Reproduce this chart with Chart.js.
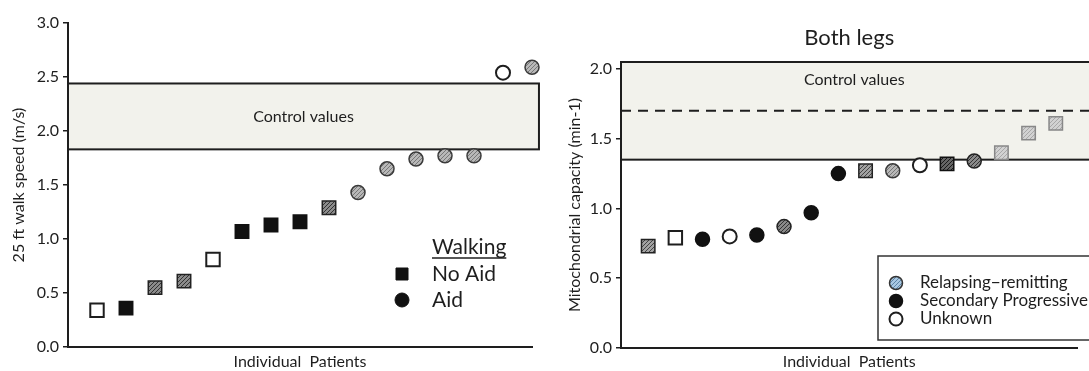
<!DOCTYPE html>
<html>
<head>
<meta charset="utf-8">
<script src="https://cdn.jsdelivr.net/npm/chart.js@4.4.1/dist/chart.umd.min.js"></script>
<style>
  html, body { margin: 0; padding: 0; background: #fff; width: 1089px; height: 371px; overflow: hidden; }
  canvas { position: absolute; top: 0; }
  #walk { left: 0; }
  #legs { left: 545px; }
</style>
</head>
<body>
<canvas id="walk" width="545" height="371"></canvas>
<canvas id="legs" width="544" height="371"></canvas>
<script>
// ---------- 25 ft walk speed panel ----------
const walkPatients = [1, 2, 3, 4, 5, 6, 7, 8, 9, 10, 11, 12, 13, 14, 15, 16];
const walkSpeed    = [0.34, 0.36, 0.55, 0.61, 0.81, 1.07, 1.13, 1.16, 1.29, 1.43, 1.65, 1.74, 1.77, 1.77, 2.54, 2.59];
const walkAid      = ['No Aid', 'No Aid', 'No Aid', 'No Aid', 'No Aid', 'No Aid', 'No Aid', 'No Aid', 'No Aid',
                      'Aid', 'Aid', 'Aid', 'Aid', 'Aid', 'Aid', 'Aid'];
const walkGroup    = ['U', 'SP', 'RR', 'RR', 'U', 'SP', 'SP', 'SP', 'RR', 'RR', 'RR', 'RR', 'RR', 'RR', 'U', 'RR'];
const walkTicks    = [0, 0.5, 1.0, 1.5, 2.0, 2.5, 3.0];
const walkControl  = [1.83, 2.44];
const walkLegendTitle = 'Walking';
const walkLegend   = ['No Aid', 'Aid'];

// ---------- Mitochondrial capacity panel ----------
const legPatients  = [1, 2, 3, 4, 5, 6, 7, 8, 9, 10, 11, 12, 13, 14, 15, 16];
const legCapacity  = [0.73, 0.79, 0.78, 0.80, 0.81, 0.87, 0.97, 1.25, 1.27, 1.27, 1.31, 1.32, 1.34, 1.40, 1.54, 1.61];
const legAid       = ['No Aid', 'No Aid', 'Aid', 'Aid', 'Aid', 'Aid', 'Aid', 'Aid', 'No Aid', 'Aid', 'Aid', 'No Aid',
                      'Aid', 'No Aid', 'No Aid', 'No Aid'];
const legGroup     = ['RR', 'U', 'SP', 'U', 'SP', 'RRd', 'SP', 'SP', 'RR', 'RR', 'U', 'RRd', 'RRd', 'RRl', 'RRl', 'RRl'];
const legTicks     = [0, 0.5, 1.0, 1.5, 2.0];
const legControl   = [1.35, 2.05];
const legControlMean = 1.70;
const legLegend    = ['Relapsing\u2212remitting', 'Secondary Progressive', 'Unknown'];

const FONT = 'Lato, "Open Sans", sans-serif';
const INK = '#1e1e1e';

// diagonal hatch fill
function hatch(bg, line) {
  const c = document.createElement('canvas');
  c.width = c.height = 4;
  const g = c.getContext('2d');
  g.fillStyle = bg; g.fillRect(0, 0, 4, 4);
  g.strokeStyle = line; g.lineWidth = 1;
  g.beginPath();
  g.moveTo(-1, 5); g.lineTo(5, -1);
  g.moveTo(-1, 1); g.lineTo(1, -1);
  g.moveTo(3, 5); g.lineTo(5, 3);
  g.stroke();
  return g.createPattern(c, 'repeat');
}

const markerLook = {
  sq:  { U:   { fill: '#ffffff', stroke: INK, w: 2 },
         SP:  { fill: '#111111', stroke: '#111', w: 1.5 },
         RR:  { fill: hatch('#a2a2a2', '#444'), stroke: '#222', w: 1.5 },
         RRd: { fill: hatch('#666', '#1a1a1a'), stroke: '#111', w: 1.5 },
         RRl: { fill: hatch('#d2d2d2', '#a8a8a8'), stroke: '#888', w: 1.5 } },
  ci:  { U:   { fill: '#ffffff', stroke: INK, w: 2 },
         SP:  { fill: '#111111', stroke: '#111', w: 1.5 },
         RR:  { fill: hatch('#b8b8b8', '#777'), stroke: '#3a3a3a', w: 1.5 },
         RRd: { fill: hatch('#8a8a8a', '#333'), stroke: '#222', w: 1.5 } }
};
const walkSquareFill = hatch('#8c8c8c', '#333');

function buildPoints(patients, values, aid, group, squareOverride) {
  const pts = patients.map((p, i) => ({ x: p, y: values[i] }));
  const shape = aid.map(a => a === 'No Aid' ? 'sq' : 'ci');
  const look = shape.map((s, i) => {
    const l = markerLook[s][group[i]];
    if (s === 'sq' && group[i] === 'RR' && squareOverride) return { ...l, fill: squareOverride };
    return l;
  });
  return {
    data: pts,
    showLine: false,
    clip: false,
    pointStyle: shape.map(s => s === 'sq' ? 'rect' : 'circle'),
    pointRadius: shape.map(s => s === 'sq' ? 9.5 : 7),
    backgroundColor: look.map(l => l.fill),
    borderColor: look.map(l => l.stroke),
    borderWidth: look.map(l => l.w)
  };
}

function yAxis(ticks, max, title, width, titlePad) {
  return {
    type: 'linear', min: 0, max: max,
    afterBuildTicks: s => { s.ticks = ticks.map(v => ({ value: v })); },
    afterFit: s => { s.width = width; },
    ticks: { color: INK, font: { family: FONT, size: 16 }, padding: 4,
             callback: v => Number(v).toFixed(1) },
    grid: { display: true, drawOnChartArea: false, drawTicks: true, tickLength: 5, color: INK, lineWidth: 1.5 },
    border: { display: true, color: INK, width: 2 },
    title: { display: true, text: title, color: INK, font: { family: FONT, size: 16 },
             padding: { top: titlePad, bottom: 0 } }
  };
}

function xAxis(min, max, height) {
  return {
    type: 'linear', min: min, max: max,
    afterFit: s => { s.height = height; },
    ticks: { display: false },
    grid: { display: false },
    border: { display: true, color: INK, width: 2 },
    title: { display: true, text: 'Individual  Patients', color: INK,
             font: { family: FONT, size: 16 }, padding: { top: 0, bottom: 0 } }
  };
}

// shaded control band with its caption
function controlBand(cfg) {
  return {
    id: 'controlBand',
    beforeDatasetsDraw(chart) {
      const { ctx, chartArea, scales: { x, y } } = chart;
      const x0 = x.getPixelForValue(cfg.from), x1 = x.getPixelForValue(cfg.to);
      const yt = y.getPixelForValue(cfg.range[1]), yb = y.getPixelForValue(cfg.range[0]);
      ctx.save();
      ctx.fillStyle = '#f2f2ec';
      ctx.fillRect(x0, yt, x1 - x0, yb - yt);
      if (cfg.mean != null) {
        const ym = y.getPixelForValue(cfg.mean);
        ctx.strokeStyle = INK; ctx.lineWidth = 2; ctx.setLineDash([10, 7]);
        ctx.beginPath(); ctx.moveTo(x0, ym); ctx.lineTo(x1, ym); ctx.stroke();
        ctx.setLineDash([]);
      }
      ctx.strokeStyle = INK; ctx.lineWidth = 2;
      ctx.strokeRect(x0, yt, x1 - x0, yb - yt);
      ctx.fillStyle = INK;
      ctx.font = '16px ' + FONT;
      ctx.textAlign = 'center'; ctx.textBaseline = 'middle';
      const tx = cfg.captionX === 'area' ? (chartArea.left + chartArea.right) / 2 + 5 : (x0 + x1) / 2;
      const ty = cfg.captionY === 'top' ? yt + 18 : (yt + yb) / 2;
      ctx.fillText('Control values', tx, ty);
      ctx.restore();
    }
  };
}

function drawMark(ctx, shape, look, cx, cy, r) {
  ctx.save();
  ctx.fillStyle = look.fill; ctx.strokeStyle = look.stroke; ctx.lineWidth = look.w;
  ctx.beginPath();
  if (shape === 'sq') ctx.rect(cx - r, cy - r, 2 * r, 2 * r);
  else ctx.arc(cx, cy, r, 0, Math.PI * 2);
  ctx.fill(); ctx.stroke();
  ctx.restore();
}

const walkLegendPlugin = {
  id: 'walkLegend',
  afterDatasetsDraw(chart) {
    const ctx = chart.ctx;
    ctx.save();
    ctx.fillStyle = INK; ctx.strokeStyle = INK;
    ctx.font = '21px ' + FONT; ctx.textBaseline = 'middle'; ctx.textAlign = 'left';
    ctx.fillText(walkLegendTitle, 432, 247);
    const w = ctx.measureText(walkLegendTitle).width;
    ctx.lineWidth = 1.5;
    ctx.beginPath(); ctx.moveTo(432, 258); ctx.lineTo(432 + w, 258); ctx.stroke();
    walkLegend.forEach((lab, i) => {
      const cy = 274 + i * 26;
      ctx.fillText(lab, 432, cy);
      drawMark(ctx, lab === 'No Aid' ? 'sq' : 'ci', { fill: '#111', stroke: '#111', w: 1 }, 402, cy, lab === 'No Aid' ? 6 : 7);
    });
    ctx.restore();
  }
};

const legLegendPlugin = {
  id: 'legLegend',
  afterDatasetsDraw(chart) {
    const ctx = chart.ctx;
    const left = 878 - 545, top = 256, bottom = 340;
    ctx.save();
    ctx.fillStyle = '#fff';
    ctx.fillRect(left, top, chart.width - left + 10, bottom - top);
    ctx.strokeStyle = '#333'; ctx.lineWidth = 1.5;
    ctx.strokeRect(left, top, chart.width - left + 10, bottom - top);
    const looks = [
      { fill: hatch('#a9c8e2', '#5d84a6'), stroke: '#333', w: 1.5 },
      { fill: '#111', stroke: '#111', w: 1.5 },
      { fill: '#fff', stroke: INK, w: 2 }
    ];
    ctx.font = '17px ' + FONT; ctx.textBaseline = 'middle'; ctx.textAlign = 'left';
    legLegend.forEach((lab, i) => {
      const cy = 283 + i * 18;
      drawMark(ctx, 'ci', looks[i], 896 - 545, cy, 6.5);
      ctx.fillStyle = INK;
      ctx.fillText(lab, 920 - 545, cy);
    });
    ctx.restore();
  }
};

const common = {
  responsive: false,
  animation: false,
  events: [],
  plugins: { legend: { display: false }, tooltip: { enabled: false } }
};

new Chart(document.getElementById('walk'), {
  type: 'scatter',
  data: { datasets: [buildPoints(walkPatients, walkSpeed, walkAid, walkGroup, walkSquareFill)] },
  options: {
    ...common,
    layout: { padding: { left: 0, right: 13, top: 23, bottom: 0 } },
    scales: {
      x: xAxis(0, 16, 24),
      y: yAxis(walkTicks, 3.0, '25 ft walk speed (m/s)', 68, 9)
    }
  },
  plugins: [controlBand({ from: 0, to: 16.24, range: walkControl }), walkLegendPlugin]
});

new Chart(document.getElementById('legs'), {
  type: 'scatter',
  data: { datasets: [buildPoints(legPatients, legCapacity, legAid, legGroup, null)] },
  options: {
    ...common,
    layout: { padding: { left: 0, right: 0, top: 0, bottom: 0 } },
    plugins: {
      ...common.plugins,
      title: { display: true, text: 'Both legs', fullSize: false, color: INK,
               font: { family: FONT, size: 22, weight: 'normal' }, padding: { top: 25, bottom: 10.6 } }
    },
    scales: {
      x: xAxis(0, 16.8, 23),
      y: yAxis(legTicks, 2.05, 'Mitochondrial capacity (min-1)', 76, 20)
    }
  },
  plugins: [controlBand({ from: 0, to: 18, range: legControl, mean: legControlMean, captionX: 'area', captionY: 'top' }),
            legLegendPlugin]
});
</script>
</body>
</html>
